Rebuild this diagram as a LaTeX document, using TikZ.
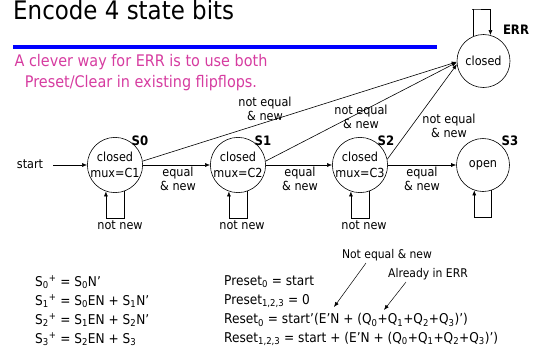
\documentclass[tikz,border=0pt]{standalone}
\usepackage{fontspec}
\setmainfont{DejaVu Sans}[FakeStretch=0.9]
\usetikzlibrary{arrows.meta}
\definecolor{pinktxt}{RGB}{214,60,160}
\begin{document}
\begin{tikzpicture}[x=1pt,y=-1pt,
  font=\fontsize{12.5}{14}\selectfont,
  state/.style={circle,draw,minimum size=53pt,inner sep=0pt,align=center,line width=0.6pt,
    font=\fontsize{12.5}{15.5}\selectfont},
  lbl/.style={inner sep=0pt,align=center,font=\fontsize{12.5}{14}\selectfont},
  note/.style={inner sep=0pt,align=center,font=\fontsize{12}{14}\selectfont},
  arr/.style={-{Latex[length=5pt,width=4pt]},line width=0.6pt},
  tag/.style={inner sep=0pt,font=\bfseries\fontsize{13}{15}\selectfont},
  eq/.style={inner sep=0pt,anchor=west,font=\fontsize{13.5}{15}\selectfont}]
\useasboundingbox (0,0) rectangle (537,351);
% title
\node[anchor=west,inner sep=0pt,font=\fontsize{25.5}{30}\selectfont] (title) at (13,9.5) {Encode 4 state bits};
\draw[blue,line width=4pt] (13,47) -- (437,47);
\node[inner sep=0pt,align=center,text=pinktxt,font=\fontsize{16}{21}\selectfont] (clever) at (141,73)
  {A clever way for ERR is to use both\\Preset/Clear in existing flipflops.};
% states
\node[state] (s0) at (115,165) {closed\\mux=C1};
\node[state] (s1) at (238,165) {closed\\mux=C2};
\node[state] (s2) at (360,165) {closed\\mux=C3};
\node[state] (s3) at (483,165) {open};
\node[state] (err) at (483.5,61) {closed};
\node[tag] (t0) at (140,141) {S0};
\node[tag] (t1) at (263,141) {S1};
\node[tag] (t2) at (386,141) {S2};
\node[tag] (t3) at (510,141) {S3};
\node[tag] (terr) at (516,30) {ERR};
% start
\node[lbl] (start) at (30,164) {start};
\coordinate (st) at (53,165);
\draw[arr] (st) -- (s0);
% forward edges
\draw[arr] (s0) -- (s1);
\draw[arr] (s1) -- (s2);
\draw[arr] (s2) -- (s3);
\node[lbl] (e01) at (178,179) {equal\\\& new};
\node[lbl] (e12) at (300,179) {equal\\\& new};
\node[lbl] (e23) at (422,179) {equal\\\& new};
% to ERR
\draw[arr] (s0.8) -- (err.182);
\draw[arr] (s1.8) -- (err.183);
\draw[arr] (s2.12) -- (err.187);
\node[lbl] (n0) at (265,109) {not equal\\\& new};
\node[lbl] (n1) at (361,117) {not equal\\\& new};
\node[lbl] (n2) at (449,126) {not equal\\\& new};
% self loops
\draw[arr] (s0.-71) -- ++(0,27) -| (s0.-109);
\draw[arr] (s1.-71) -- ++(0,27) -| (s1.-109);
\draw[arr] (s2.-71) -- ++(0,27) -| (s2.-109);
\draw[arr] (s3.-71) -- ++(0,27) -| (s3.-109);
\draw[arr] (err.113) |- (472,9) -| (err.75);
\node[lbl] (nn0) at (120,225) {not new};
\node[lbl] (nn1) at (242,225) {not new};
\node[lbl] (nn2) at (364,225) {not new};
% equations
\node[eq] (q0) at (35,282) {S\textsubscript{0}\textsuperscript{+} = S\textsubscript{0}N’};
\node[eq] (q1) at (35,301) {S\textsubscript{1}\textsuperscript{+} = S\textsubscript{0}EN + S\textsubscript{1}N’};
\node[eq] (q2) at (35,320) {S\textsubscript{2}\textsuperscript{+} = S\textsubscript{1}EN + S\textsubscript{2}N’};
\node[eq] (q3) at (35,339) {S\textsubscript{3}\textsuperscript{+} = S\textsubscript{2}EN + S\textsubscript{3}};
\node[eq] (p0) at (224,282) {Preset\textsubscript{0} = start};
\node[eq] (p1) at (224,301) {Preset\textsubscript{1,2,3} = 0};
\node[eq] (r0) at (224,320) {Reset\textsubscript{0} = start’(E’N + (Q\textsubscript{0}+Q\textsubscript{1}+Q\textsubscript{2}+Q\textsubscript{3})’)};
\node[eq] (r1) at (224,339) {Reset\textsubscript{1,2,3} = start + (E’N + (Q\textsubscript{0}+Q\textsubscript{1}+Q\textsubscript{2}+Q\textsubscript{3})’)};
% annotations
\node[note] (note1) at (387,255) {Not equal \& new};
\node[note] (note2) at (428,274) {Already in ERR};
\coordinate (a1) at (334,307);
\coordinate (a2) at (384,310);
\draw[arr,line width=0.5pt] ([xshift=-21pt,yshift=-2pt]note1.south) -- (a1);
\draw[arr,line width=0.5pt] ([xshift=-22pt,yshift=-2pt]note2.south) -- (a2);
\end{tikzpicture}
\end{document}
